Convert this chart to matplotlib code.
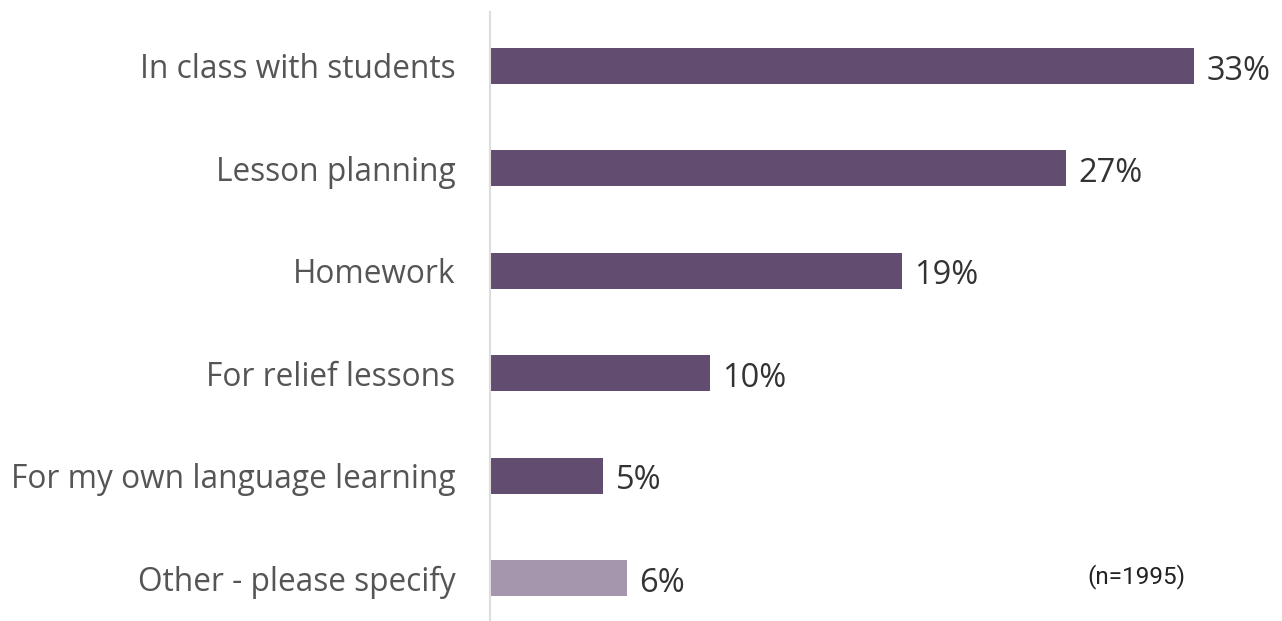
import matplotlib
matplotlib.use("Agg")
import matplotlib.pyplot as plt

categories = [
    "In class with students",
    "Lesson planning",
    "Homework",
    "For relief lessons",
    "For my own language learning",
    "Other - please specify",
]
values = [33.0, 27.0, 19.3, 10.3, 5.3, 6.4]
labels = ["33%", "27%", "19%", "10%", "5%", "6%"]
colors = ["#624c6f"] * 5 + ["#a595ad"]
note = "(n=1995)"

W, H = 1282, 621
fig = plt.figure(figsize=(W / 100, H / 100), dpi=100)
ax = fig.add_axes([490 / W, 1 - 620 / H, (W - 490) / W, 608 / H])

ypos = list(range(len(categories)))
ax.barh(ypos, values, height=0.35, color=colors)
ax.set_ylim(5.41, -0.527)
ax.set_xlim(0, (W - 490) / 21.33)

for y, v, lab in zip(ypos, values, labels):
    ax.text(v + 0.6, y + 0.05, lab, va="center", ha="left",
            fontsize=23.5, family="Open Sans", color="#333333")

ax.set_yticks(ypos)
ax.set_yticklabels(categories, fontsize=22.8, family="Open Sans", color="#555555")
ax.tick_params(axis="y", length=0, pad=25)
ax.set_xticks([])
for s in ["top", "right", "bottom"]:
    ax.spines[s].set_visible(False)
ax.spines["left"].set_color("#dddddd")
ax.spines["left"].set_linewidth(1.5)

ax.text(1136 / W, 1 - 577 / H, note, transform=fig.transFigure, ha="center",
        va="center", fontsize=17.5, family="Roboto", color="#222222")

fig.savefig("out.png", dpi=100)
